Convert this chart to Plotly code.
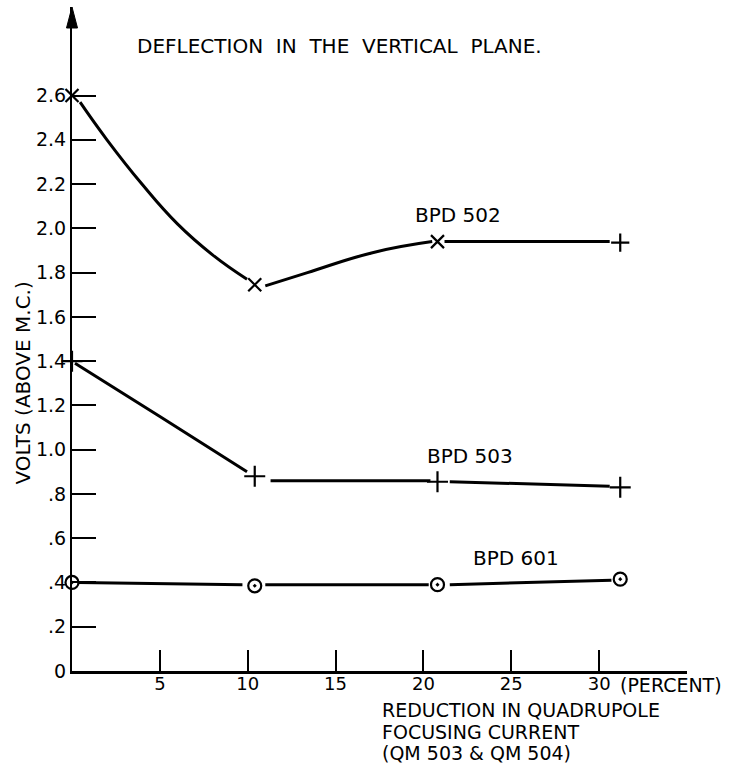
import plotly.graph_objects as go

# Percent reduction in quadrupole focusing current at each measurement
PERCENT = [0, 10.4, 20.8, 31.2]

# Beam position detector readings (volts above M.C.)
BPD502 = [2.60, 1.745, 1.94, 1.935]
BPD503 = [1.40, 0.88, 0.855, 0.83]
BPD601 = [0.40, 0.385, 0.39, 0.415]

# Hand-faired curves drawn between the measured points (None splits segments)
CURVE502_X = [0.46, 1.99, 3.98, 6.0, 8.0, 9.96, None, 11.0, 13.4, 17.1, 20.5, None, 21.2, 30.6]
CURVE502_Y = [2.57, 2.40, 2.20, 2.02, 1.88, 1.77, None, 1.74, 1.80, 1.89, 1.94, None, 1.94, 1.94]
CURVE503_X = [0.17, 5.0, 9.96, None, 11.3, 20.4, None, 21.5, 30.6]
CURVE503_Y = [1.39, 1.15, 0.90, None, 0.86, 0.86, None, 0.855, 0.835]
CURVE601_X = [0.34, 9.7, None, 11.0, 20.3, None, 21.5, 30.7]
CURVE601_Y = [0.40, 0.39, None, 0.39, 0.39, None, 0.39, 0.41]

SERIES_LABELS = ["BPD 502", "BPD 503", "BPD 601"]

Y_TICKS = [0, 0.2, 0.4, 0.6, 0.8, 1.0, 1.2, 1.4, 1.6, 1.8, 2.0, 2.2, 2.4, 2.6]
Y_TICK_TEXT = ["0", ".2", ".4", ".6", ".8", "1.0", "1.2", "1.4", "1.6", "1.8",
               "2.0", "2.2", "2.4", "2.6"]
X_TICKS = [5, 10, 15, 20, 25, 30]
X_TICK_TEXT = ["5", "10", "15", "20", "25", "30"]

X_TITLE_LINES = ["REDUCTION IN QUADRUPOLE", "FOCUSING CURRENT", "(QM 503 &amp; QM 504)"]

FONT = "DejaVu Sans"
INK = "black"
NB = "\u00a0"

SYM502 = ["x-thin-open", "x-thin-open", "x-thin-open", "cross-thin-open"]
SYM503 = ["cross-thin-open"] * 4

fig = go.Figure()

for cx, cy in [(CURVE502_X, CURVE502_Y), (CURVE503_X, CURVE503_Y), (CURVE601_X, CURVE601_Y)]:
    fig.add_trace(go.Scatter(
        x=cx, y=cy, mode="lines", connectgaps=False,
        line=dict(color=INK, width=3, shape="spline", smoothing=1.3),
        hoverinfo="skip", cliponaxis=False,
    ))

fig.add_trace(go.Scatter(
    x=PERCENT, y=BPD502, mode="markers", cliponaxis=False,
    marker=dict(symbol=SYM502, size=13, color=INK, line=dict(color=INK, width=2.2)),
))
fig.add_trace(go.Scatter(
    x=PERCENT, y=BPD503, mode="markers", cliponaxis=False,
    marker=dict(symbol=SYM503, size=15, color=INK, line=dict(color=INK, width=2.2)),
))
fig.add_trace(go.Scatter(
    x=PERCENT, y=BPD601, mode="markers", cliponaxis=False,
    marker=dict(symbol="circle-dot", size=13, color="white", line=dict(color=INK, width=2.2)),
))

annotations = [
    dict(text=NB.join(["DEFLECTION", "", "IN", "", "THE", "", "VERTICAL", "", "PLANE."]),
         xref="paper", yref="paper", x=0.102, y=0.941, xanchor="left", yanchor="middle",
         showarrow=False, font=dict(family=FONT, size=20, color=INK)),
    dict(text="VOLTS (ABOVE M.C.)", textangle=-90,
         xref="paper", yref="paper", x=-0.08, y=0.434, xanchor="center", yanchor="middle",
         showarrow=False, font=dict(family=FONT, size=20, color=INK)),
    dict(text="(PERCENT)", xref="x", yref="paper", x=31.08, y=(671 - 685) / 664,
         xanchor="left", yanchor="middle", showarrow=False,
         font=dict(family=FONT, size=19, color=INK)),
]

# three-line axis caption below the x axis, left aligned
for line_text, py in zip(X_TITLE_LINES, [710, 732, 753]):
    annotations.append(dict(text=line_text, xref="x", yref="paper", x=17.5,
                            y=(671 - py) / 664, xanchor="left", yanchor="middle",
                            showarrow=False, font=dict(family=FONT, size=19, color=INK)))

label_pos = [(19.4, 2.06), (20.1, 0.97), (22.7, 0.51)]
for text, (lx, ly) in zip(SERIES_LABELS, label_pos):
    annotations.append(dict(text=text, x=lx, y=ly, xref="x", yref="y",
                            xanchor="left", yanchor="middle", showarrow=False,
                            font=dict(family=FONT, size=20, color=INK)))

fig.update_layout(
    width=750, height=765,
    margin=dict(l=72, r=63, t=7, b=94, pad=0),
    paper_bgcolor="white", plot_bgcolor="white",
    showlegend=False,
    font=dict(family=FONT, color=INK),
    annotations=annotations,
    shapes=[
        # arrowhead at the top of the vertical axis
        dict(type="path", xref="paper", yref="paper",
             xsizemode="pixel", ysizemode="pixel", xanchor=0, yanchor=1.0,
             path="M 0,0 L -5.5,-21 L 5.5,-21 Z",
             fillcolor=INK, line=dict(color=INK, width=1)),
    ],
    xaxis=dict(
        range=[0, 35], showgrid=False, zeroline=False,
        showline=True, linecolor=INK, linewidth=2.5,
        ticks="inside", ticklen=21, tickwidth=1.6, tickcolor=INK,
        tickvals=X_TICKS, ticktext=X_TICK_TEXT, ticklabelstandoff=-5,
        tickfont=dict(family=FONT, size=18, color=INK),
    ),
    yaxis=dict(
        range=[0, 3.0], showgrid=False, zeroline=False,
        showline=True, linecolor=INK, linewidth=2,
        ticks="inside", ticklen=24, tickwidth=1.6, tickcolor=INK,
        tickvals=Y_TICKS, ticktext=Y_TICK_TEXT,
        tickfont=dict(family=FONT, size=19, color=INK),
    ),
)

fig.write_html("out.html")
